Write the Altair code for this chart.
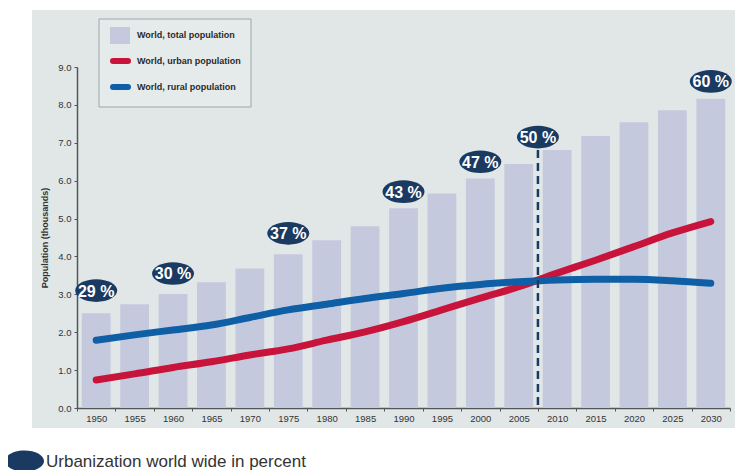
import altair as alt
import pandas as pd

# ---- data ----
years = [1950, 1955, 1960, 1965, 1970, 1975, 1980, 1985, 1990, 1995,
         2000, 2005, 2010, 2015, 2020, 2025, 2030]
total_pop = [2.50, 2.74, 3.01, 3.32, 3.68, 4.06, 4.43, 4.80, 5.27, 5.66,
             6.06, 6.44, 6.81, 7.18, 7.54, 7.86, 8.16]
urban_pop = [0.74, 0.90, 1.07, 1.22, 1.40, 1.56, 1.79, 2.01, 2.28, 2.59,
             2.90, 3.20, 3.56, 3.90, 4.26, 4.62, 4.92]
rural_pop = [1.79, 1.93, 2.06, 2.19, 2.39, 2.59, 2.74, 2.89, 3.02, 3.16,
             3.26, 3.33, 3.38, 3.40, 3.40, 3.36, 3.29]

pct_years = [1950, 1960, 1975, 1990, 2000, 2030]
pct_pos = [3.10, 3.55, 4.61, 5.71, 6.50, 8.62]
pct_labels = ["29 %", "30 %", "37 %", "43 %", "47 %", "60 %"]

mid_year = [2005]          # marker drawn at the end of this band (≈2007/08)
mid_pos = [7.15]
mid_label = ["50 %"]
mid_rule_bottom = [0.08]
mid_rule_top = [7.0]

legend_labels = ["World, total population", "World, urban population",
                 "World, rural population"]
y_ticks = [0, 1, 2, 3, 4, 5, 6, 7, 8, 9]

# ---- styling ----
PANEL = "#e1e7e7"
BAR = "#c5c9de"
RED = "#c8143a"
BLUE = "#0f5fa6"
NAVY = "#1b3a62"
FONT = "Liberation Sans"
W, H = 653, 341
ELLIPSE = "M -1 0 A 1 0.54 0 1 1 1 0 A 1 0.54 0 1 1 -1 0 Z"

bars_df = pd.DataFrame({"year": years, "total": total_pop})
lines_df = pd.DataFrame({
    "year": years * 2,
    "value": urban_pop + rural_pop,
    "series": ["urban"] * len(years) + ["rural"] * len(years),
})
pct_df = pd.DataFrame({"year": pct_years, "pos": pct_pos, "label": pct_labels})
mid_df = pd.DataFrame({"year": mid_year, "pos": mid_pos, "label": mid_label,
                       "y0": mid_rule_bottom, "y1": mid_rule_top})
one = pd.DataFrame({"a": [0]})

x_axis = alt.Axis(title=None, labelAngle=0, tickBand="extent", zindex=0,
                  labelFont=FONT, labelFontSize=9.5, labelColor="#333",
                  tickColor="#555", tickSize=3, labelPadding=2,
                  labelOverlap=False, domainColor="#555", domainWidth=1.5)
y_axis = alt.Axis(title="Population (thousands)", values=y_ticks, format=".1f",
                  grid=False, zindex=0, labelOverlap=False,
                  labelFont=FONT, labelFontSize=9.5,
                  labelColor="#333", tickColor="#555", tickSize=3,
                  labelPadding=3, domainColor="#555", domainWidth=1.5,
                  titleFont=FONT, titleFontSize=9, titleFontWeight="bold",
                  titleColor="#333", titlePadding=8)
x_scale = alt.Scale(paddingInner=0, paddingOuter=0)
y_scale = alt.Scale(domain=[0, 9], nice=False)


def X(**kw):
    return alt.X("year:O", scale=x_scale, axis=x_axis, **kw)


def Y(field):
    return alt.Y(field, scale=y_scale, axis=y_axis)


# white surround outside the grey panel (chart background is the panel colour)
def white(x0, x1, y0, y1):
    return alt.Chart(one).mark_rect(color="white").encode(
        x=alt.value(x0), x2=alt.value(x1), y=alt.value(y0), y2=alt.value(y1))


surround = [
    white(-80, W + 20, -70, -57),
    white(-80, -45, -70, H + 70),
    white(W + 5, W + 20, -70, H + 70),
    white(-80, W + 20, H + 20, H + 70),
]

bars = alt.Chart(bars_df).mark_bar(color=BAR, width=alt.RelativeBandSize(0.75)).encode(
    x=X(), y=Y("total:Q"))

lines = alt.Chart(lines_df).mark_line(strokeWidth=7, strokeCap="round",
                                      interpolate="monotone").encode(
    x=X(), y=Y("value:Q"),
    color=alt.Color("series:N", scale=alt.Scale(domain=["urban", "rural"],
                                                range=[RED, BLUE]), legend=None),
)

mid_rule = alt.Chart(mid_df).mark_rule(color=NAVY, strokeWidth=2.5,
                                       strokeDash=[8, 5]).encode(
    x=X(bandPosition=1), y=Y("y0:Q"), y2="y1:Q")

pct_pts = alt.Chart(pct_df).mark_point(shape=ELLIPSE, size=42 * 42, filled=True,
                                       color=NAVY, opacity=1).encode(
    x=X(), y=Y("pos:Q"))
pct_txt = alt.Chart(pct_df).mark_text(color="white", font=FONT, fontWeight="bold",
                                      fontSize=16, baseline="middle", dy=1).encode(
    x=X(), y=Y("pos:Q"), text="label:N")

mid_pt = alt.Chart(mid_df).mark_point(shape=ELLIPSE, size=42 * 42, filled=True,
                                      color=NAVY, opacity=1).encode(
    x=X(bandPosition=1), y=Y("pos:Q"))
mid_txt = alt.Chart(mid_df).mark_text(color="white", font=FONT, fontWeight="bold",
                                      fontSize=16, baseline="middle", dy=1).encode(
    x=X(bandPosition=1), y=Y("pos:Q"), text="label:N")

# ---- legend box (top-left) ----
leg_box = alt.Chart(one).mark_rect(fill="#e5ebeb", stroke="#9ea6aa", strokeWidth=1).encode(
    x=alt.value(22), x2=alt.value(174), y=alt.value(-48), y2=alt.value(40))
leg_sq = alt.Chart(one).mark_rect(color=BAR).encode(
    x=alt.value(33), x2=alt.value(53), y=alt.value(-40), y2=alt.value(-23))
leg_red = alt.Chart(one).mark_rule(color=RED, strokeWidth=6, strokeCap="round").encode(
    x=alt.value(36), x2=alt.value(51), y=alt.value(-6))
leg_blue = alt.Chart(one).mark_rule(color=BLUE, strokeWidth=6, strokeCap="round").encode(
    x=alt.value(36), x2=alt.value(51), y=alt.value(20))
leg_texts = [
    alt.Chart(one).mark_text(text=lab, align="left", baseline="middle", font=FONT,
                             fontSize=9, fontWeight="bold", color="#2a2a2a").encode(
        x=alt.value(60), y=alt.value(yy))
    for lab, yy in zip(legend_labels, [-32, -6, 20])
]

# ---- bottom note ----
note_pt = alt.Chart(one).mark_point(shape=ELLIPSE, size=39 * 39, filled=True,
                                    color=NAVY, opacity=1).encode(
    x=alt.value(-52.5), y=alt.value(394))
note_txt = alt.Chart(one).mark_text(text="Urbanization world wide in percent",
                                    align="left", baseline="middle", font=FONT,
                                    fontSize=17, color="#333").encode(
    x=alt.value(-31), y=alt.value(395))

chart = alt.layer(
    *surround, bars, lines, mid_rule, pct_pts, pct_txt, mid_pt, mid_txt,
    leg_box, leg_sq, leg_red, leg_blue, *leg_texts, note_pt, note_txt,
).properties(
    width=W, height=H,
    padding={"left": 69, "top": 59, "right": 7, "bottom": 62},
    autosize=alt.AutoSizeParams(type="none"),
    background=PANEL,
).configure_view(stroke=None)

chart.save("out.html", embed_options={"renderer": "svg", "actions": False})
